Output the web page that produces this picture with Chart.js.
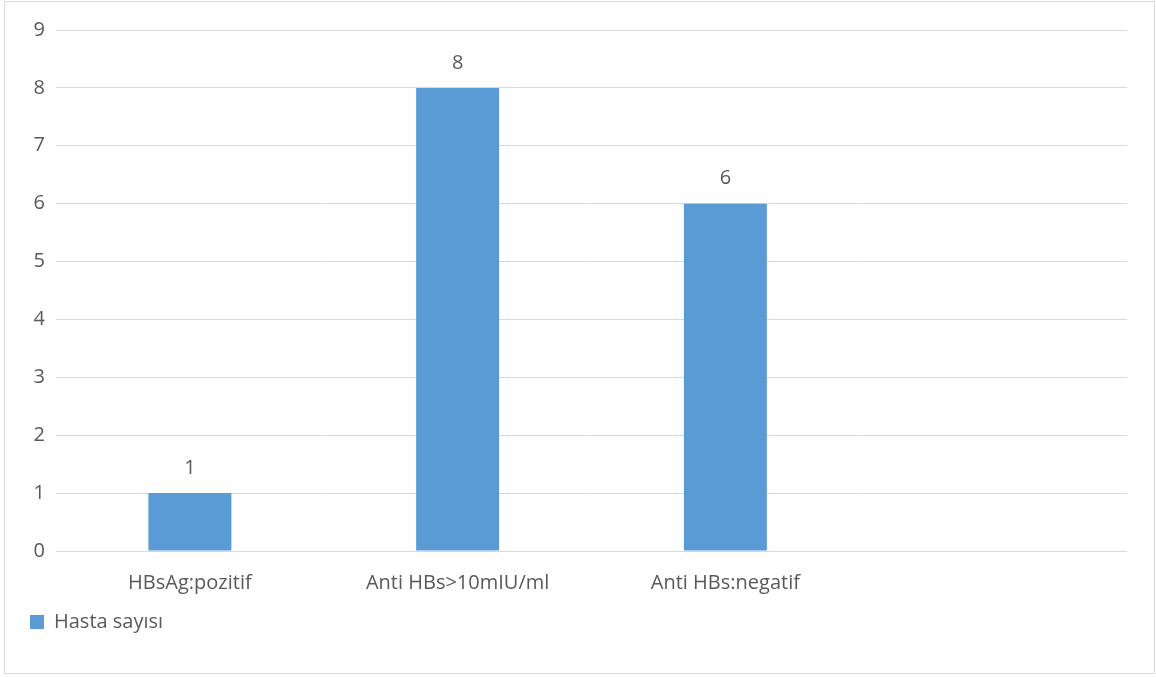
<!DOCTYPE html>
<html>
<head>
<meta charset="utf-8">
<script src="https://cdn.jsdelivr.net/npm/chart.js@4"></script>
<style>
    body { margin: 0; background: #fff; }
    #frame {
        position: absolute; left: 4px; top: 1px;
        width: 1149px; height: 671px;
        border: 1px solid #d9d9d9;
    }
    canvas { display: block; }
</style>
</head>
<body>
<div id="frame"><canvas id="chart" width="1149" height="671"></canvas></div>
<script>
// Chart data
const categories = ['HBsAg:pozitif', 'Anti HBs>10mIU/ml', 'Anti HBs:negatif', ''];
const hastaSayisi = [1, 8, 6, null];
const seriesName = 'Hasta sayısı';

const textColor = '#595959';
const barColor = '#5b9bd5';

// Value labels above bars
const valueLabels = {
    id: 'valueLabels',
    afterDatasetsDraw(chart) {
        const ctx = chart.ctx;
        const meta = chart.getDatasetMeta(0);
        ctx.save();
        ctx.font = '20px "Open Sans"';
        ctx.fillStyle = textColor;
        ctx.textAlign = 'center';
        ctx.textBaseline = 'middle';
        meta.data.forEach((bar, i) => {
            if (hastaSayisi[i] == null) return;
            ctx.fillText(hastaSayisi[i], bar.x, bar.y - 25);
        });
        ctx.restore();
    }
};

new Chart(document.getElementById('chart'), {
    type: 'bar',
    data: {
        labels: categories,
        datasets: [{
            label: seriesName,
            data: hastaSayisi,
            backgroundColor: barColor,
            categoryPercentage: 1,
            barPercentage: 0.31
        }]
    },
    options: {
        responsive: false,
        animation: false,
        layout: { padding: { left: 10, right: 27, top: 28, bottom: 31 } },
        scales: {
            x: {
                grid: { display: false },
                border: { display: false },
                ticks: { color: textColor, font: { family: 'Open Sans', size: 20 }, padding: 12, maxRotation: 0 },
                afterFit(scale) { scale.height = 46; }
            },
            y: {
                min: 0,
                max: 9,
                ticks: { stepSize: 1, color: textColor, font: { family: 'Open Sans', size: 20 }, padding: 11 },
                grid: { color: '#d9d9d9', lineWidth: 1, drawTicks: false },
                border: { display: false },
                afterFit(scale) { scale.width = 41; }
            }
        },
        plugins: {
            legend: {
                position: 'bottom',
                align: 'start',
                labels: {
                    color: textColor,
                    font: { family: 'Open Sans', size: 20 },
                    boxWidth: 14,
                    boxHeight: 14,
                    padding: 15
                }
            },
            tooltip: { enabled: false }
        }
    },
    plugins: [valueLabels]
});
</script>
</body>
</html>
